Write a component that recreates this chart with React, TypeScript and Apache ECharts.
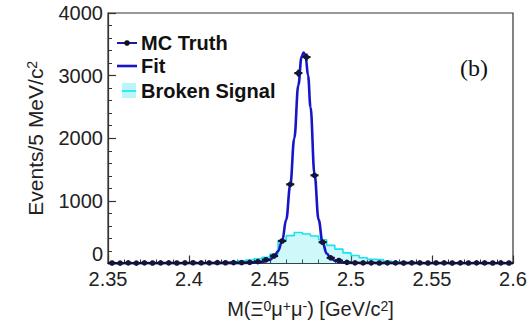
import React, { useEffect, useRef } from "react";
import * as echarts from "echarts";

// Mass window and binning (5 MeV bins)
const xMin = 2.35;
const xMax = 2.6;
const binWidth = 0.005;
const xTicks = ["2.35", "2.4", "2.45", "2.5", "2.55", "2.6"];
const yTicks = [0, 1000, 2000, 3000, 4000];

// MC truth events per bin, left to right
const mcTruth = [
  8, 6, 9, 7, 10, 8, 9, 11, 8, 10,
  12, 9, 11, 13, 12, 15, 14, 18, 30, 60,
  120, 360, 1264, 3040, 3296, 1408, 340, 90, 48, 18,
  10, 9, 11, 8, 10, 9, 8, 10, 9, 8,
  9, 10, 8, 9, 8, 10, 9, 8, 9, 8,
];

// Broken signal histogram, left to right
const brokenSignal = [
  2, 2, 2, 3, 3, 3, 4, 4, 5, 5,
  6, 8, 12, 16, 22, 30, 42, 55, 75, 100,
  150, 365, 445, 495, 470, 440, 380, 290, 230, 170,
  128, 92, 66, 60, 38, 25, 18, 14, 11, 9,
  7, 6, 6, 5, 5, 4, 4, 3, 3, 3,
];

// Fitted line shape: mass [GeV/c^2] and events
const fitMass = [
  2.35, 2.4, 2.43, 2.44, 2.445, 2.45, 2.4525, 2.455, 2.4575, 2.46,
  2.4625, 2.465, 2.4675, 2.4695, 2.4708, 2.472, 2.4735, 2.475, 2.4775, 2.48,
  2.4825, 2.485, 2.4875, 2.49, 2.495, 2.5, 2.55, 2.6,
];
const fitEvents = [
  4, 4, 6, 12, 25, 60, 110, 200, 360, 700,
  1250, 2000, 2850, 3300, 3370, 3300, 3000, 2500, 1420, 700,
  330, 160, 85, 45, 15, 8, 5, 4,
];

const FIT_BLUE = "#1616c8";
const CYAN = "#19e3ee";
const FONT = "'Liberation Sans', Arial, sans-serif";

export default function App() {
  const ref = useRef<HTMLDivElement>(null);

  useEffect(() => {
    if (!ref.current) return;
    const chart = echarts.init(ref.current, undefined, { renderer: "svg" });

    const centers = mcTruth.map((_, i) => xMin + binWidth * (i + 0.5));
    const mcData = mcTruth.map((v, i) => [centers[i], v]);
    const histData = brokenSignal.map((v, i) => [xMin + binWidth * i, v]);
    histData.push([xMax, brokenSignal[brokenSignal.length - 1]]);
    const fitData = fitMass.map((m, i) => [m, fitEvents[i]]);

    chart.setOption({
      animation: false,
      grid: {
        left: 108,
        right: 18,
        top: 13,
        bottom: 63.5,
        show: true,
        borderColor: "#333",
        borderWidth: 1.2,
        backgroundColor: "transparent",
      },
      xAxis: {
        type: "value",
        min: xMin,
        max: xMax,
        interval: 0.05,
        name: "M(Ξ{sup|0}μ{sup|+}μ{sup|-}) [GeV/c{sup|2}]",
        nameLocation: "middle",
        nameGap: 35,
        nameTextStyle: {
          fontFamily: FONT,
          fontSize: 20,
          color: "#222",
          verticalAlign: "top",
          rich: {
            sup: { fontFamily: FONT, fontSize: 14, verticalAlign: "top", color: "#222" },
          },
        },
        axisLine: { show: true, lineStyle: { color: "#333", width: 1.2 } },
        axisTick: { show: true, inside: true, length: 8, lineStyle: { color: "#333", width: 1.2 } },
        minorTick: { show: true, splitNumber: 5, length: 4, lineStyle: { color: "#333", width: 1 } },
        splitLine: { show: false },
        axisLabel: {
          fontFamily: FONT,
          fontSize: 20,
          color: "#222",
          margin: 5,
          formatter: (v: number) => {
            const idx = Math.round((v - xMin) / 0.05);
            return xTicks[idx] ?? "";
          },
        },
      },
      yAxis: {
        type: "value",
        min: yTicks[0],
        max: yTicks[yTicks.length - 1],
        interval: 1000,
        name: "Events/5 MeV/c{sup|2}",
        nameLocation: "middle",
        nameGap: 62,
        nameRotate: 90,
        nameTextStyle: {
          fontFamily: FONT,
          fontSize: 21,
          color: "#222",
          rich: {
            sup: { fontFamily: FONT, fontSize: 14, verticalAlign: "top", color: "#222" },
          },
        },
        axisLine: { show: true, lineStyle: { color: "#333", width: 1.2 } },
        axisTick: { show: true, inside: true, length: 8, lineStyle: { color: "#333", width: 1.2 } },
        minorTick: { show: true, splitNumber: 5, length: 4, lineStyle: { color: "#333", width: 1 } },
        splitLine: { show: false },
        axisLabel: {
          fontFamily: FONT,
          fontSize: 20,
          color: "#222",
          margin: 5,
          verticalAlignMinLabel: "bottom",
          formatter: (v: number) => String(v),
        },
      },
      series: [
        {
          name: "Broken Signal",
          type: "line",
          step: "end",
          data: histData,
          symbol: "none",
          lineStyle: { color: CYAN, width: 1.6 },
          areaStyle: { color: "rgba(40,225,238,0.32)", origin: "start" },
          z: 1,
        },
        {
          name: "Fit",
          type: "line",
          data: fitData,
          smooth: 0.4,
          smoothMonotone: "x",
          symbol: "none",
          lineStyle: { color: FIT_BLUE, width: 2.6 },
          z: 2,
        },
        {
          name: "MC Truth",
          type: "custom",
          data: mcData,
          z: 3,
          renderItem: (_params: any, api: any) => {
            const x = api.value(0);
            const y = api.value(1);
            const c = api.coord([x, y]);
            const hw = api.size([binWidth / 2, 0])[0];
            const err = Math.sqrt(y);
            const top = api.coord([x, y + err]);
            const bot = api.coord([x, Math.max(0, y - err)]);
            return {
              type: "group",
              children: [
                {
                  type: "line",
                  shape: { x1: c[0] - hw, y1: c[1], x2: c[0] + hw, y2: c[1] },
                  style: { stroke: "#111", lineWidth: 2.2 },
                },
                {
                  type: "line",
                  shape: { x1: c[0], y1: top[1], x2: c[0], y2: bot[1] },
                  style: { stroke: "#111", lineWidth: 2.2 },
                },
                {
                  type: "circle",
                  shape: { cx: c[0], cy: c[1], r: 2.8 },
                  style: { fill: "#14143c" },
                },
              ],
            };
          },
        },
      ],
      graphic: [
        // legend: MC Truth
        { type: "line", shape: { x1: 117, y1: 43, x2: 137, y2: 43 }, style: { stroke: "#1c1c9a", lineWidth: 2 } },
        { type: "circle", shape: { cx: 127, cy: 43, r: 2.8 }, style: { fill: "#111" } },
        {
          type: "text",
          x: 141,
          y: 43,
          style: { text: "MC Truth", fontFamily: FONT, fontSize: 20, fontWeight: "bold", fill: "#111", verticalAlign: "middle" },
        },
        // legend: Fit
        { type: "line", shape: { x1: 117, y1: 66, x2: 137, y2: 66 }, style: { stroke: FIT_BLUE, lineWidth: 2.6 } },
        {
          type: "text",
          x: 141,
          y: 66,
          style: { text: "Fit", fontFamily: FONT, fontSize: 20, fontWeight: "bold", fill: "#111", verticalAlign: "middle" },
        },
        // legend: Broken Signal
        { type: "rect", shape: { x: 122, y: 83, width: 14, height: 15 }, style: { fill: "rgba(40,225,238,0.32)" } },
        { type: "line", shape: { x1: 122, y1: 91, x2: 136, y2: 91 }, style: { stroke: CYAN, lineWidth: 1.6 } },
        {
          type: "text",
          x: 141,
          y: 91,
          style: { text: "Broken Signal", fontFamily: FONT, fontSize: 20, fontWeight: "bold", fill: "#111", verticalAlign: "middle" },
        },
        // panel label
        {
          type: "text",
          x: 474,
          y: 68,
          style: {
            text: "(b)",
            fontFamily: "'Liberation Serif', 'Times New Roman', serif",
            fontSize: 24,
            fill: "#111",
            align: "center",
            verticalAlign: "middle",
          },
        },
      ],
    });

    return () => chart.dispose();
  }, []);

  return <div ref={ref} style={{ width: 531, height: 327, position: "absolute", left: 0, top: 0 }} />;
}
